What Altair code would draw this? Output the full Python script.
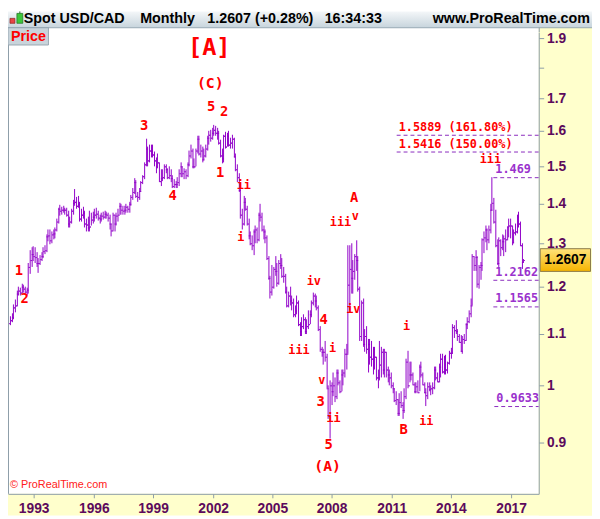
import altair as alt
import pandas as pd

# ---------------- data ----------------
START_YEAR = 1991
START_MONTH = 10          # first monthly bar: Oct 1991
FIRST_OPEN = 1.122

HIGH = [
    1.137, 1.142, 1.162,
    1.172, 1.192, 1.200, 1.198, 1.207, 1.205, 1.200, 1.199, 1.255, 1.283, 1.292, 1.293,
    1.290, 1.280, 1.265, 1.272, 1.280, 1.290, 1.295, 1.322, 1.335, 1.335, 1.330, 1.333,
    1.340, 1.360, 1.390, 1.396, 1.392, 1.395, 1.390, 1.390, 1.380, 1.365, 1.385, 1.410,
    1.437, 1.418, 1.420, 1.405, 1.385, 1.392, 1.380, 1.362, 1.365, 1.380, 1.375, 1.378,
    1.386, 1.390, 1.380, 1.372, 1.376, 1.378, 1.380, 1.378, 1.375, 1.370, 1.350, 1.375,
    1.372, 1.375, 1.385, 1.402, 1.400, 1.395, 1.395, 1.400, 1.395, 1.405, 1.421, 1.440,
    1.468, 1.462, 1.430, 1.440, 1.460, 1.476, 1.510, 1.578, 1.555, 1.562, 1.560, 1.560,
    1.540, 1.525, 1.535, 1.510, 1.490, 1.490, 1.505, 1.505, 1.495, 1.500, 1.490, 1.475,
    1.465, 1.460, 1.470, 1.490, 1.510, 1.500, 1.495, 1.490, 1.510, 1.545, 1.560, 1.550,
    1.520, 1.550, 1.585, 1.585, 1.560, 1.555, 1.550, 1.560, 1.585, 1.600, 1.605, 1.610,
    1.618, 1.615, 1.610, 1.600, 1.575, 1.550, 1.590, 1.597, 1.595, 1.600, 1.580, 1.590,
    1.580, 1.535, 1.505, 1.480, 1.440, 1.385, 1.420, 1.415, 1.395, 1.360, 1.330, 1.320,
    1.335, 1.345, 1.340, 1.375, 1.400, 1.375, 1.345, 1.335, 1.320, 1.270, 1.225, 1.250,
    1.245, 1.270, 1.255, 1.260, 1.275, 1.265, 1.245, 1.230, 1.200, 1.190, 1.200, 1.180,
    1.175, 1.160, 1.180, 1.170, 1.125, 1.135, 1.140, 1.135, 1.130, 1.150, 1.150, 1.170,
    1.188, 1.185, 1.180, 1.160, 1.115, 1.075, 1.070, 1.085, 1.060, 1.000, 1.010, 1.005,
    1.025, 1.015, 1.030, 1.030, 1.010, 1.030, 1.030, 1.070, 1.080, 1.295, 1.295, 1.300,
    1.260, 1.275, 1.307, 1.270, 1.200, 1.170, 1.175, 1.110, 1.115, 1.090, 1.090, 1.085,
    1.075, 1.075, 1.055, 1.030, 1.085, 1.075, 1.070, 1.070, 1.065, 1.035, 1.030, 1.025,
    1.005, 0.995, 0.990, 0.975, 0.985, 0.990, 0.970, 0.995, 1.050, 1.066, 1.045, 1.045,
    1.025, 1.005, 1.005, 1.010, 1.040, 1.045, 1.025, 1.005, 0.995, 1.005, 1.005, 1.000,
    1.005, 1.035, 1.035, 1.025, 1.042, 1.060, 1.060, 1.057, 1.058, 1.046, 1.066, 1.072,
    1.120, 1.118, 1.128, 1.110, 1.100, 1.097, 1.095, 1.100, 1.122, 1.135, 1.150, 1.175,
    1.275, 1.270, 1.284, 1.270, 1.250, 1.257, 1.312, 1.330, 1.345, 1.336, 1.345, 1.400,
    1.469, 1.414, 1.383, 1.310, 1.315, 1.310, 1.323, 1.320, 1.335, 1.342, 1.360, 1.360,
    1.345, 1.335, 1.350, 1.370, 1.379, 1.355, 1.300, 1.2635,
]

LOW = [
    1.118, 1.124, 1.130,
    1.145, 1.158, 1.180, 1.180, 1.186, 1.188, 1.185, 1.180, 1.186, 1.228, 1.245, 1.258,
    1.255, 1.245, 1.232, 1.250, 1.258, 1.265, 1.275, 1.280, 1.305, 1.298, 1.300, 1.310,
    1.312, 1.330, 1.350, 1.368, 1.370, 1.375, 1.372, 1.365, 1.340, 1.338, 1.350, 1.370,
    1.395, 1.385, 1.390, 1.355, 1.355, 1.360, 1.340, 1.330, 1.330, 1.330, 1.345, 1.350,
    1.355, 1.360, 1.356, 1.350, 1.355, 1.358, 1.360, 1.360, 1.355, 1.335, 1.318, 1.330,
    1.330, 1.345, 1.355, 1.370, 1.370, 1.372, 1.370, 1.375, 1.375, 1.375, 1.395, 1.410,
    1.425, 1.415, 1.405, 1.410, 1.430, 1.450, 1.465, 1.500, 1.500, 1.510, 1.525, 1.525,
    1.500, 1.480, 1.495, 1.455, 1.445, 1.460, 1.465, 1.480, 1.465, 1.465, 1.455, 1.440,
    1.440, 1.440, 1.440, 1.445, 1.470, 1.470, 1.465, 1.465, 1.470, 1.500, 1.520, 1.495,
    1.495, 1.500, 1.535, 1.530, 1.525, 1.510, 1.515, 1.525, 1.545, 1.560, 1.570, 1.575,
    1.585, 1.585, 1.575, 1.560, 1.525, 1.508, 1.510, 1.550, 1.555, 1.555, 1.550, 1.550,
    1.525, 1.485, 1.455, 1.430, 1.360, 1.335, 1.345, 1.380, 1.345, 1.310, 1.295, 1.285,
    1.272, 1.300, 1.300, 1.305, 1.355, 1.330, 1.310, 1.300, 1.260, 1.215, 1.175, 1.180,
    1.195, 1.225, 1.200, 1.205, 1.240, 1.220, 1.210, 1.185, 1.155, 1.155, 1.160, 1.150,
    1.135, 1.135, 1.140, 1.115, 1.095, 1.095, 1.110, 1.100, 1.100, 1.110, 1.120, 1.135,
    1.160, 1.155, 1.150, 1.105, 1.065, 1.055, 1.040, 1.045, 0.995, 0.940, 0.906, 0.965,
    0.980, 0.970, 0.975, 1.000, 0.985, 0.990, 1.000, 1.015, 1.030, 1.060, 1.150, 1.185,
    1.185, 1.215, 1.235, 1.190, 1.085, 1.085, 1.075, 1.065, 1.060, 1.025, 1.040, 1.035,
    1.020, 1.030, 1.010, 0.995, 1.010, 1.015, 1.020, 1.015, 1.015, 1.005, 1.000, 0.995,
    0.985, 0.970, 0.965, 0.945, 0.945, 0.960, 0.941, 0.950, 0.975, 0.995, 1.005, 1.010,
    1.000, 0.985, 0.985, 0.985, 0.990, 1.015, 1.000, 0.985, 0.963, 0.975, 0.990, 0.982,
    0.984, 0.993, 1.010, 1.005, 1.005, 1.015, 1.023, 1.020, 1.020, 1.022, 1.040, 1.050,
    1.060, 1.092, 1.100, 1.085, 1.082, 1.065, 1.060, 1.080, 1.085, 1.110, 1.122, 1.135,
    1.160, 1.235, 1.235, 1.198, 1.197, 1.215, 1.235, 1.278, 1.303, 1.283, 1.300, 1.325,
    1.380, 1.350, 1.290, 1.250, 1.246, 1.270, 1.283, 1.270, 1.280, 1.308, 1.314, 1.312,
    1.296, 1.300, 1.320, 1.325, 1.340, 1.294, 1.241, 1.2555,
]

CLOSE = [
    1.128, 1.135, 1.156,
    1.160, 1.185, 1.192, 1.188, 1.201, 1.197, 1.190, 1.193, 1.245, 1.262, 1.275, 1.271,
    1.268, 1.255, 1.255, 1.264, 1.271, 1.281, 1.285, 1.317, 1.320, 1.308, 1.322, 1.325,
    1.335, 1.354, 1.385, 1.380, 1.383, 1.384, 1.383, 1.372, 1.350, 1.355, 1.380, 1.402,
    1.405, 1.395, 1.400, 1.362, 1.372, 1.375, 1.348, 1.347, 1.340, 1.342, 1.358, 1.366,
    1.372, 1.374, 1.363, 1.362, 1.368, 1.365, 1.373, 1.371, 1.363, 1.348, 1.332, 1.370,
    1.350, 1.368, 1.372, 1.395, 1.383, 1.381, 1.383, 1.391, 1.385, 1.400, 1.418, 1.430,
    1.455, 1.420, 1.418, 1.432, 1.455, 1.472, 1.505, 1.550, 1.515, 1.545, 1.545, 1.533,
    1.515, 1.500, 1.510, 1.460, 1.468, 1.470, 1.500, 1.490, 1.470, 1.475, 1.468, 1.445,
    1.450, 1.450, 1.455, 1.480, 1.500, 1.480, 1.485, 1.475, 1.505, 1.530, 1.545, 1.500,
    1.500, 1.545, 1.577, 1.535, 1.545, 1.518, 1.530, 1.550, 1.580, 1.590, 1.580, 1.595,
    1.605, 1.595, 1.595, 1.565, 1.530, 1.520, 1.585, 1.555, 1.585, 1.560, 1.565, 1.578,
    1.528, 1.490, 1.470, 1.435, 1.370, 1.350, 1.405, 1.385, 1.350, 1.320, 1.300, 1.295,
    1.330, 1.335, 1.310, 1.370, 1.365, 1.335, 1.330, 1.315, 1.265, 1.220, 1.190, 1.200,
    1.240, 1.235, 1.210, 1.255, 1.250, 1.225, 1.225, 1.190, 1.160, 1.180, 1.170, 1.165,
    1.140, 1.150, 1.165, 1.120, 1.105, 1.115, 1.130, 1.105, 1.115, 1.120, 1.140, 1.165,
    1.180, 1.170, 1.155, 1.110, 1.070, 1.065, 1.065, 1.055, 0.995, 0.945, 1.000, 0.990,
    1.000, 0.980, 1.025, 1.005, 0.990, 1.020, 1.025, 1.060, 1.060, 1.205, 1.240, 1.220,
    1.235, 1.270, 1.260, 1.195, 1.095, 1.165, 1.080, 1.095, 1.070, 1.080, 1.055, 1.050,
    1.070, 1.055, 1.015, 1.015, 1.040, 1.065, 1.030, 1.065, 1.030, 1.020, 1.015, 1.000,
    0.995, 0.973, 0.975, 0.950, 0.970, 0.965, 0.955, 0.980, 1.045, 1.000, 1.020, 1.020,
    1.003, 0.990, 0.998, 0.988, 1.035, 1.020, 1.003, 0.987, 0.983, 0.999, 0.993, 0.995,
    0.997, 1.030, 1.015, 1.008, 1.036, 1.051, 1.027, 1.054, 1.030, 1.043, 1.062, 1.062,
    1.114, 1.107, 1.105, 1.096, 1.084, 1.067, 1.090, 1.087, 1.120, 1.127, 1.143, 1.160,
    1.270, 1.250, 1.267, 1.207, 1.244, 1.250, 1.310, 1.315, 1.335, 1.310, 1.335, 1.384,
    1.401, 1.353, 1.297, 1.255, 1.307, 1.292, 1.306, 1.312, 1.311, 1.341, 1.343, 1.343,
    1.302, 1.328, 1.330, 1.365, 1.350, 1.297, 1.256, 1.2607,
]

YEAR_TICKS = [1993, 1996, 1999, 2002, 2005, 2008, 2011, 2014, 2017]
PRICE_TICKS = [0.9, 1.0, 1.1, 1.2, 1.3, 1.4, 1.5, 1.6, 1.7, 1.8, 1.9]
LAST_PRICE = 1.2607

FIB_LEVELS = [1.5889, 1.5416, 1.469, 1.2162, 1.1565, 0.9633]
FIB_TEXT = ["1.5889 (161.80%)", "1.5416 (150.00%)", "1.469 (", "1.2162", "1.1565", "0.9633"]
FIB_START = [2011.24, 2011.24, 2016.14, 2016.14, 2016.14, 2016.19]
FIB_KIND = ["ext", "ext", "ret", "ret", "ret", "ret"]

WAVE_TEXT = ["[A]", "(C)", "5", "2", "3", "1", "4", "ii", "i", "1", "2",
             "A", "iii", "v", "iv", "4", "iv", "iii", "i", "v", "3", "ii", "5", "(A)",
             "i", "B", "ii", "iii"]
WAVE_YEAR = [2001.84, 2001.88, 2001.93, 2002.57, 1998.55, 2002.37, 1999.97, 2003.55, 2003.40, 1992.24, 1992.53,
             2009.13, 2008.43, 2009.17, 2007.08, 2007.57, 2009.08, 2006.34, 2008.01, 2007.47, 2007.42, 2008.06, 2007.81, 2007.76,
             2011.73, 2011.58, 2012.76, 2015.98]
WAVE_PRICE = [1.866, 1.747, 1.672, 1.657, 1.616, 1.480, 1.419, 1.448, 1.315, 1.236, 1.172,
              1.414, 1.354, 1.368, 1.213, 1.128, 1.151, 1.068, 1.072, 1.009, 0.970, 0.942, 0.895, 0.861,
              1.116, 0.921, 0.937, 1.518]

# ---------------- layout / style ----------------
W, H = 538, 468
PAD_R, PAD_B, PAD_T = 54, 22, 21
HDR_BOTTOM = -5            # header strip ends 5px above the plot area
XMIN, XMAX = 1991.70, 2018.40
YMIN, YMAX = 0.8186, 1.921

BAR = "#9000C8"
RED = "#FF0000"
PURPLE = "#9A32CD"
FIB_LINE = "#8A2BBE"
AXIS_COLOR = "#8C9CA8"
LABEL_COLOR = "#5C0A5C"
PANEL = "#FFFFCC"
SANS = "Liberation Sans"
MONO = "DejaVu Sans Mono"

xscale = alt.Scale(domain=[XMIN, XMAX], nice=False, zero=False, round=True)
yscale = alt.Scale(type="log", domain=[YMIN, YMAX], nice=False, zero=False, round=True)

xaxis = alt.Axis(values=YEAR_TICKS, format="d", orient="bottom", title=None, grid=False,
                 labelFont=SANS, labelFontWeight="bold", labelFontSize=14, labelColor=LABEL_COLOR,
                 tickColor=AXIS_COLOR, tickSize=4, domainColor=AXIS_COLOR, labelPadding=4,
                 labelFlush=False, labelOverlap=False, zindex=1)
yaxis = alt.Axis(values=PRICE_TICKS, format="~g", orient="right", title=None, grid=False,
                 labelExpr="datum.value == 1.8 ? '' : datum.label",
                 labelFont=SANS, labelFontWeight="bold", labelFontSize=14, labelColor=LABEL_COLOR,
                 tickColor=AXIS_COLOR, tickSize=5, domainColor=AXIS_COLOR, labelPadding=3,
                 labelFlush=False, labelOverlap=False, zindex=1)


def X(f):
    return alt.X(f"{f}:Q", scale=xscale, axis=xaxis)


def Y(f):
    return alt.Y(f"{f}:Q", scale=yscale, axis=yaxis)


# ---------------- tables ----------------
n = len(CLOSE)
t = [START_YEAR + (START_MONTH - 1 + i) / 12 + 1 / 24 for i in range(n)]
ohlc = pd.DataFrame({
    "t": t,
    "o": [FIRST_OPEN] + CLOSE[:-1],
    "h": HIGH[:n],
    "l": LOW[:n],
    "c": CLOSE,
})

fib = pd.DataFrame({"start": FIB_START, "end": [XMAX] * len(FIB_LEVELS),
                    "level": FIB_LEVELS, "label": FIB_TEXT, "kind": FIB_KIND})


def wave_size(s):
    if s.startswith("["):
        return 24
    if s.startswith("("):
        return 15
    if s[0].isdigit() or s[0].isupper():
        return 14
    return 12


waves = pd.DataFrame({"t": WAVE_YEAR, "p": WAVE_PRICE, "label": WAVE_TEXT})
waves["fs"] = [wave_size(s) for s in WAVE_TEXT]

last = pd.DataFrame({"p": [LAST_PRICE], "label": [f"{LAST_PRICE:.4f}"]})
one = pd.DataFrame({"k": [0]})


def deco_rect(x, x2, y, y2, **kw):
    return alt.Chart(one).mark_rect(**kw).encode(
        x=alt.value(x), x2=alt.value(x2), y=alt.value(y), y2=alt.value(y2))


def deco_text(txt, x, y, **kw):
    return alt.Chart(one).mark_text(text=txt, **kw).encode(x=alt.value(x), y=alt.value(y))


def deco_rule(x, x2, y, y2, **kw):
    return alt.Chart(one).mark_rule(**kw).encode(
        x=alt.value(x), x2=alt.value(x2), y=alt.value(y), y2=alt.value(y2))


# ---------------- layers ----------------
right_panel = deco_rect(W, W + PAD_R, HDR_BOTTOM, H + PAD_B, fill=PANEL)
bottom_panel = deco_rect(0, W + PAD_R, H, H + PAD_B, fill=PANEL)
left_border = deco_rule(0.5, 0.5, HDR_BOTTOM, H, color=AXIS_COLOR, strokeWidth=1)
right_border_top = deco_rule(W + 0.5, W + 0.5, HDR_BOTTOM, 0, color=AXIS_COLOR, strokeWidth=1)

# crisp 1px OHLC bars: high-low stem, open tick to the left, close tick to the right
bars = alt.Chart(ohlc).mark_rule(color=BAR, strokeWidth=1, xOffset=0.5).encode(
    x=X("t"), y=Y("l"), y2=alt.Y2("h"))
open_ticks = alt.Chart(ohlc).mark_rule(color=BAR, strokeWidth=1, xOffset=-1, x2Offset=0,
                                       yOffset=0.5).encode(
    x=X("t"), x2=alt.X2("t"), y=Y("o"))
close_ticks = alt.Chart(ohlc).mark_rule(color=BAR, strokeWidth=1, xOffset=1, x2Offset=2,
                                        yOffset=0.5).encode(
    x=X("t"), x2=alt.X2("t"), y=Y("c"))

fib_lines = alt.Chart(fib).mark_rule(strokeDash=[4, 3], strokeWidth=1, color=FIB_LINE,
                                     yOffset=0.5).encode(
    x=X("start"), x2=alt.X2("end"), y=Y("level"))
fib_text = alt.Chart(fib).mark_text(align="left", baseline="bottom", dx=2, dy=-1, font=MONO,
                                    fontWeight="bold", fontSize=12, clip=True).encode(
    x=X("start"), y=Y("level"), text="label:N",
    color=alt.Color("kind:N", scale=alt.Scale(domain=["ext", "ret"], range=[RED, PURPLE]), legend=None))

wave_text = alt.Chart(waves).mark_text(font=MONO, fontWeight="bold", color=RED,
                                       align="center", baseline="middle").encode(
    x=X("t"), y=Y("p"), text="label:N", size=alt.Size("fs:Q", scale=None, legend=None))

price_box = deco_rect(0, 41, HDR_BOTTOM, HDR_BOTTOM + 18, fill="#C9D4DB", stroke="#98A8B3", strokeWidth=1)
price_txt = deco_text("Price", 3, HDR_BOTTOM + 9.5, font=SANS, fontWeight="bold", fontSize=14.5,
                      color=RED, align="left", baseline="middle")
copyright_txt = deco_text("© ProRealTime.com", 2, H - 9, font=SANS, fontSize=11, color="#FF2020",
                          align="left", baseline="middle")

header_grad = alt.Gradient(gradient="linear",
                           stops=[alt.GradientStop(color="#F4F7F9", offset=0),
                                  alt.GradientStop(color="#C8D5DD", offset=1)],
                           x1=0, x2=0, y1=0, y2=1)
header = deco_rect(0, W + PAD_R, -PAD_T, HDR_BOTTOM, fill=header_grad)
header_line = deco_rule(0, W + PAD_R, HDR_BOTTOM + 0.5, HDR_BOTTOM + 0.5, color="#8FA3B0", strokeWidth=1)
HY = (-PAD_T + HDR_BOTTOM) / 2
hdr_kw = dict(font=SANS, fontWeight="bold", fontSize=14.5, color="black", baseline="middle")
h1 = deco_text("Spot USD/CAD", 16, HY, align="left", **hdr_kw)
h2 = deco_text("Monthly", 134, HY, align="left", **hdr_kw)
h3 = deco_text("1.2607 (+0.28%)", 202, HY, align="left", **hdr_kw)
h4 = deco_text("16:34:33", 321, HY, align="left", **hdr_kw)
h5 = deco_text("www.ProRealTime.com", W + PAD_R - 2, HY, align="right", **hdr_kw)

icon_red = deco_rect(2, 7, HY - 1, HY + 4, fill="#E84545", stroke="#8A2020", strokeWidth=0.7)
icon_green = deco_rect(9, 15, HY - 6, HY + 4, fill="#3CC83C", stroke="#1E6E1E", strokeWidth=0.7)
icon_wick = deco_rule(12, 12, HY - 8, HY - 6, color="#1E6E1E", strokeWidth=1)

gold = alt.Gradient(gradient="linear",
                    stops=[alt.GradientStop(color="#FFE27A", offset=0),
                           alt.GradientStop(color="#F5B400", offset=1)],
                    x1=0, x2=0, y1=0, y2=1)
last_box = alt.Chart(last).mark_point(
    shape="M-1,-0.451L1,-0.451L1,0.451L-1,0.451Z", size=51 * 51, filled=True,
    fill=gold, stroke="#8A7A4A", strokeWidth=1, opacity=1).encode(
    x=alt.value(W + 27), y=Y("p"))
last_txt = alt.Chart(last).mark_text(font=SANS, fontWeight="bold", fontSize=14, color="black").encode(
    x=alt.value(W + 27), y=Y("p"), text="label:N")

chart = alt.layer(
    right_panel, bottom_panel, left_border, right_border_top,
    bars, open_ticks, close_ticks,
    fib_lines, fib_text, wave_text,
    price_box, price_txt, copyright_txt,
    header, header_line, h1, h2, h3, h4, h5, icon_red, icon_green, icon_wick,
    last_box, last_txt,
).properties(
    width=W, height=H,
    padding={"left": 0, "top": PAD_T, "right": PAD_R, "bottom": PAD_B},
    autosize=alt.AutoSizeParams(type="none"),
    background="white",
).configure_view(stroke=None)

chart.save("out.html", embed_options={"renderer": "svg", "actions": False})
